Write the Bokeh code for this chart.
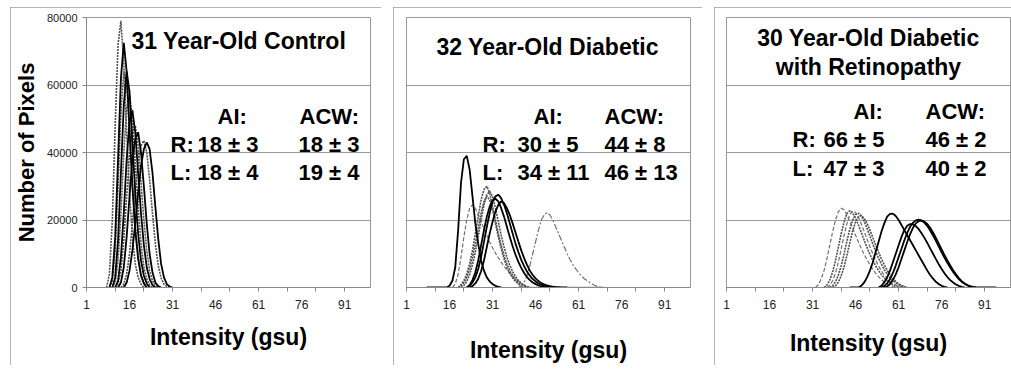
from bokeh.plotting import figure
from bokeh.layouts import row, column
from bokeh.models import Range1d, FixedTicker, Label, Spacer, NumeralTickFormatter
from bokeh.embed import file_html
from bokeh.resources import INLINE

# ---------------- data ----------------
x_tick_labels = [1, 16, 31, 46, 61, 76, 91]
x_minor = [1, 11, 21, 31, 41, 51, 61, 71, 81, 91]
y_ticks = [0, 20000, 40000, 60000, 80000]

# Panel 1: 31 Year-Old Control (start intensity of each curve + pixel counts)
p1_starts = [8, 9, 9, 10, 10, 11, 11, 12, 13, 14]
p1_kinds = ["dot", "solid", "dot", "solid", "dot", "solid", "dot", "solid", "dot", "solid"]
p1_curves = [
    [0, 4000, 20000, 48000, 72000, 79000, 66000, 46000, 28000, 15000, 7000, 3000, 1000, 0],
    [0, 3000, 15000, 38000, 62000, 72500, 64000, 47000, 30000, 17000, 8500, 3500, 1200, 0],
    [0, 2000, 11000, 30000, 52000, 64000, 60000, 46000, 31000, 18000, 9500, 4000, 1500, 0],
    [0, 3000, 14000, 34000, 54000, 64000, 58000, 43000, 28000, 16000, 8000, 3500, 1200, 0],
    [0, 1500, 8000, 22000, 40000, 53000, 57000, 50000, 37000, 24000, 13000, 6000, 2500, 800, 0],
    [0, 2000, 9000, 22000, 38000, 49000, 52500, 46000, 34000, 22000, 12500, 6000, 2500, 800, 0],
    [0, 1000, 5000, 14000, 27000, 39000, 46000, 48000, 42000, 31000, 20000, 11000, 5000, 2000, 600, 0],
    [0, 1500, 6000, 15000, 27000, 38000, 44000, 46000, 40000, 30000, 19000, 10000, 4500, 1500, 400, 0],
    [0, 1000, 4000, 10000, 19000, 29000, 37000, 42000, 43500, 40000, 32000, 22000, 13000, 6500, 2800, 1000, 300, 0],
    [0, 1500, 5000, 11000, 19000, 28000, 36000, 41000, 43000, 41000, 34000, 24000, 14500, 7000, 3000, 1000, 300, 0],
]

# Panel 2: 32 Year-Old Diabetic
p2_starts = [8, 17, 19, 20, 19, 22, 22, 23, 40]
p2_kinds = ["solid", "dash", "dot", "dot", "dot", "solid", "solid", "solid", "dashdot"]
p2_curves = [
    [0, 0, 0, 0, 0, 0, 0, 0, 500, 2000, 6000, 17000, 31000, 38000, 39000, 35000, 27000, 19000,
     13000, 8000, 5000, 3000, 1800, 1000, 500, 200, 0],
    [0, 1000, 4000, 9000, 15000, 20000, 23500, 24500, 23500, 21500, 19500, 17500, 15500, 13500,
     11800, 10200, 8800, 7500, 6300, 5200, 4200, 3300, 2500, 1800, 1200, 700, 300, 0],
    [0, 800, 2000, 4000, 7000, 11000, 16000, 21000, 26000, 29000, 30000, 28000, 24000, 20000,
     16000, 12500, 9500, 7000, 5000, 3500, 2300, 1400, 800, 400, 0, 0, 0, 0, 0, 0, 0, 0, 0, 0,
     0, 0, 0, 0, 0, 0, 0, 0, 0, 0, 0, 0, 0, 0, 0, 0, 0, 0],
    [0, 600, 1800, 3800, 6800, 10500, 15000, 20000, 24500, 27500, 28500, 27000, 23500, 19500,
     15500, 12000, 9000, 6600, 4700, 3200, 2100, 1300, 700, 300, 0],
    [0, 500, 1500, 3000, 5500, 9000, 13000, 17500, 22000, 25500, 27000, 26000, 23000, 19000,
     15000, 11500, 8500, 6000, 4200, 2800, 1800, 1000, 500, 200, 0],
    [0, 500, 1500, 3000, 5500, 9000, 13500, 18000, 22000, 25500, 27000, 27500, 26500, 24500,
     22000, 19000, 16000, 13000, 10500, 8200, 6300, 4700, 3500, 2500, 1800, 1200, 800, 500,
     300, 150, 0],
    [0, 700, 2200, 4500, 8000, 12500, 17000, 21000, 24000, 25800, 26300, 25500, 23500, 21000,
     18000, 15000, 12200, 9700, 7600, 5800, 4300, 3100, 2200, 1500, 1000, 600, 300, 100, 0],
    [0, 400, 1200, 2600, 4800, 8000, 12000, 16000, 19500, 22500, 24500, 25500, 25000, 23500,
     21500, 19000, 16300, 13600, 11000, 8700, 6700, 5000, 3700, 2700, 1900, 1300, 900, 600,
     400, 250, 150, 80, 0, 0, 0],
    [0, 500, 1500, 3500, 6500, 10000, 13500, 17000, 20000, 21500, 22200, 21500, 20000, 18000,
     16000, 14000, 12000, 10000, 8300, 6800, 5500, 4400, 3400, 2600, 2000, 1400, 900, 500, 200, 0],
]

# Panel 3: 30 Year-Old Diabetic with Retinopathy
p3_starts = [32, 35, 36, 37, 38, 44, 54, 55, 56]
p3_kinds = ["dash", "dot", "dash", "dot", "dot", "solid", "solid", "solid", "solid"]
p3_curves = [
    [0, 800, 2500, 5000, 8500, 12500, 16500, 20000, 22500, 23500, 23000, 21500, 19500, 17500,
     15500, 13500, 11500, 9800, 8200, 6700, 5400, 4200, 3200, 2300, 1600, 1000, 600, 300, 0],
    [0, 700, 2200, 4600, 8000, 12000, 16000, 19500, 22000, 22800, 22000, 20500, 18500, 16300,
     14000, 11800, 9800, 8000, 6400, 5000, 3800, 2800, 2000, 1300, 800, 400, 150, 0],
    [0, 600, 2000, 4300, 7500, 11500, 15500, 19000, 21700, 22700, 22200, 20800, 18800, 16600,
     14300, 12100, 10000, 8100, 6400, 4900, 3700, 2700, 1900, 1200, 700, 350, 100, 0],
    [0, 500, 1700, 3700, 6500, 10000, 13800, 17300, 20000, 21600, 22000, 21200, 19600, 17500,
     15200, 12900, 10700, 8700, 6900, 5300, 4000, 2900, 2000, 1300, 800, 400, 150, 0],
    [0, 500, 1600, 3500, 6200, 9600, 13300, 16800, 19500, 21000, 21300, 20500, 19000, 17000,
     14800, 12600, 10500, 8500, 6700, 5100, 3800, 2700, 1800, 1100, 600, 250, 0],
    [0, 0, 0, 0, 500, 1500, 3000, 5000, 7500, 10500, 13500, 16500, 19000, 21000, 21800, 21900,
     21200, 20000, 18500, 17000, 15500, 14000, 12500, 11000, 9500, 8000, 6500, 5000, 3700, 2600,
     1700, 1000, 500, 200, 0],
    [0, 500, 1500, 3000, 5000, 7500, 10000, 12500, 15000, 17000, 18300, 18800, 18700, 18200,
     17300, 16100, 14700, 13200, 11600, 10000, 8400, 6900, 5500, 4200, 3100, 2200, 1500, 900,
     500, 200, 0],
    [0, 400, 1200, 2500, 4300, 6500, 9000, 11500, 14000, 16200, 18000, 19200, 19900, 20100,
     19900, 19200, 18200, 16900, 15400, 13800, 12100, 10400, 8800, 7300, 5900, 4600, 3500, 2500,
     1700, 1100, 600, 300, 100, 0],
    [0, 300, 1000, 2200, 3900, 6000, 8500, 11000, 13500, 15800, 17700, 19000, 19700, 19800,
     19500, 18800, 17700, 16300, 14700, 13000, 11300, 9600, 8000, 6500, 5100, 3900, 2800, 1900,
     1200, 700, 350, 150, 0, 0, 0, 0, 0, 0, 0, 0],
]

# ---------------- layout constants ----------------
X0, X1 = 1, 100
Y1 = 80000
FRAME_W, FRAME_H, FRAME_TOP = 284, 274, 17
FONT = "Liberation Sans"

STYLE = {
    "solid": dict(line_color="black", line_width=1.8),
    "dot": dict(line_color="#505050", line_width=1.6, line_dash="2 1"),
    "dash": dict(line_color="#707070", line_width=1.2, line_dash="4 2"),
    "dashdot": dict(line_color="#707070", line_width=1.2, line_dash="6 2 2 2"),
}


def make_fig(width, bl, br, show_y, xlabel_standoff):
    p = figure(width=width, height=358, output_backend="svg", toolbar_location=None,
               x_range=Range1d(X0, X1), y_range=Range1d(0, Y1),
               min_border_left=bl, min_border_right=br, min_border_top=10, min_border_bottom=74)
    p.outline_line_color = "#999999"
    p.outline_line_width = 1
    p.background_fill_color = "white"
    p.border_fill_color = "white"
    p.styles = {"outline": "1px solid #9a9a9a", "outline-offset": "-1px"}
    p.xgrid.visible = False
    p.ygrid.ticker = FixedTicker(ticks=y_ticks)
    p.ygrid.grid_line_color = "#9a9a9a"
    p.ygrid.grid_line_width = 1
    xa = p.xaxis[0]
    xa.ticker = FixedTicker(ticks=x_tick_labels, minor_ticks=x_minor)
    xa.axis_line_color = "#888888"
    xa.major_tick_line_color = None
    xa.major_tick_out = 4
    xa.major_tick_in = 0
    xa.minor_tick_line_color = "#888888"
    xa.minor_tick_out = 4
    xa.minor_tick_in = 0
    xa.major_label_text_font = FONT
    xa.major_label_text_font_size = "12px"
    xa.major_label_text_color = "#222222"
    xa.major_label_standoff = 8
    xa.axis_label = "Intensity (gsu)"
    xa.axis_label_text_font = FONT
    xa.axis_label_text_font_style = "bold"
    xa.axis_label_text_font_size = "23px"
    xa.axis_label_text_color = "black"
    xa.axis_label_standoff = xlabel_standoff
    ya = p.yaxis[0]
    if show_y:
        ya.ticker = FixedTicker(ticks=y_ticks)
        ya.formatter = NumeralTickFormatter(format="0")
        ya.axis_line_color = "#888888"
        ya.major_tick_line_color = "#888888"
        ya.major_tick_out = 4
        ya.major_tick_in = 0
        ya.minor_tick_line_color = None
        ya.major_label_text_font = FONT
        ya.major_label_text_font_size = "11px"
        ya.major_label_text_color = "#222222"
        ya.major_label_standoff = 5
        ya.axis_label = "Number of Pixels"
        ya.axis_label_text_font = FONT
        ya.axis_label_text_font_style = "bold"
        ya.axis_label_text_font_size = "22px"
        ya.axis_label_text_color = "black"
        ya.axis_label_standoff = 5
    else:
        ya.visible = False
    return p


def draw(p, starts, kinds, curves):
    order = [i for i, k in enumerate(kinds) if k != "solid"] + [i for i, k in enumerate(kinds) if k == "solid"]
    for i in order:
        xs = list(range(starts[i], starts[i] + len(curves[i])))
        p.line(xs, curves[i], **STYLE[kinds[i]])


def lab(p, left_px, px, py, text, align="left", size="22px"):
    x = X0 + (px - left_px) * (X1 - X0) / FRAME_W
    y = Y1 * (FRAME_TOP + FRAME_H - py) / FRAME_H
    p.add_layout(Label(x=x, y=y, text=text, text_font=FONT, text_font_style="bold",
                       text_font_size=size, text_color="black",
                       text_baseline="middle", text_align=align))


TS = "23px"

p1 = make_fig(371, 76, 11, True, 12)
draw(p1, p1_starts, p1_kinds, p1_curves)
L1 = 86
lab(p1, L1, 131, 41, "31 Year-Old Control", size=TS)
lab(p1, L1, 217, 117, "AI:")
lab(p1, L1, 299, 117, "ACW:")
lab(p1, L1, 170, 146, "R:")
lab(p1, L1, 197, 146, "18 ± 3")
lab(p1, L1, 298, 146, "18 ± 3")
lab(p1, L1, 170, 174, "L:")
lab(p1, L1, 197, 174, "18 ± 4")
lab(p1, L1, 298, 174, "19 ± 4")

p2 = make_fig(309, 13, 12, False, 25)
draw(p2, p2_starts, p2_kinds, p2_curves)
L2 = 406
lab(p2, L2, 436, 47, "32 Year-Old Diabetic", size=TS)
lab(p2, L2, 533, 117, "AI:")
lab(p2, L2, 604, 117, "ACW:")
lab(p2, L2, 482, 146, "R:")
lab(p2, L2, 517, 146, "30 ± 5")
lab(p2, L2, 604, 146, "44 ± 8")
lab(p2, L2, 482, 174, "L:")
lab(p2, L2, 517, 174, "34 ± 11")
lab(p2, L2, 604, 174, "46 ± 13")

p3 = make_fig(297, 12, 1, False, 18)
draw(p3, p3_starts, p3_kinds, p3_curves)
L3 = 726
lab(p3, L3, 868, 38, "30 Year-Old Diabetic", "center", TS)
lab(p3, L3, 868, 67, "with Retinopathy", "center", TS)
lab(p3, L3, 853, 112, "AI:")
lab(p3, L3, 925, 112, "ACW:")
lab(p3, L3, 792, 141, "R:")
lab(p3, L3, 823, 141, "66 ± 5")
lab(p3, L3, 925, 141, "46 ± 2")
lab(p3, L3, 792, 170, "L:")
lab(p3, L3, 823, 170, "47 ± 3")
lab(p3, L3, 925, 170, "40 ± 2")

layout = column(Spacer(height=7),
                row(Spacer(width=10), p1, Spacer(width=12), p2, Spacer(width=12), p3))

open("out.html", "w").write(file_html(layout, INLINE))
